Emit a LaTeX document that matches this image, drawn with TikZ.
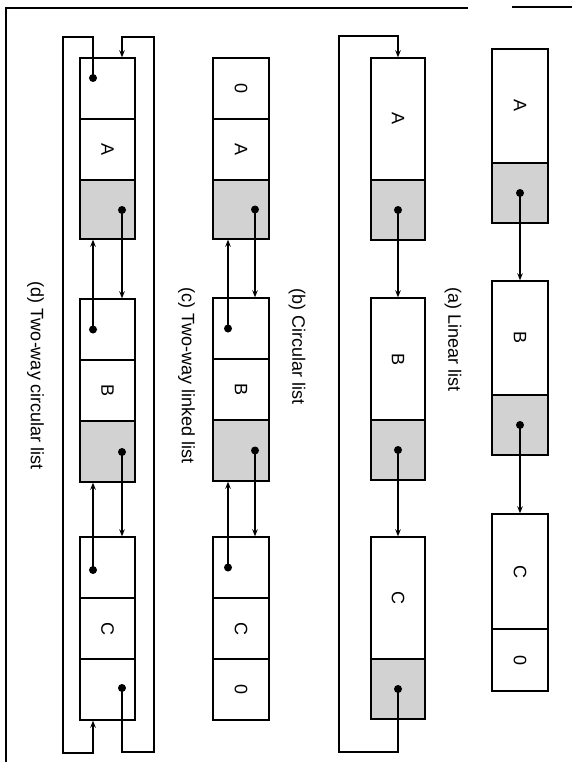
\documentclass[tikz,border=0pt]{standalone}
\usepackage{fontspec}
\setmainfont{Liberation Sans}
\usepackage{graphicx}
\usetikzlibrary{arrows.meta}
\begin{document}
\begin{tikzpicture}[x=1pt,y=-1pt,
  cell/.style={draw,line width=1.4pt,inner sep=0pt,minimum height=61pt,font=\fontsize{18}{20}\selectfont},
  shaded/.style={cell,fill=gray!35},
  wa/.style={minimum width=56pt},
  wb/.style={minimum width=54pt},
  wc/.style={minimum width=56pt},
  wd/.style={minimum width=55pt},
  dot/.style={circle,fill=black,inner sep=0pt,minimum size=8pt},
  link/.style={line width=1.3pt,-{Stealth[length=7pt,width=5.5pt]}},
  lab/.style={rotate=-90,font=\fontsize{18}{20}\selectfont},
  frame/.style={line width=1.4pt}]
\useasboundingbox (0,0) rectangle (572,762);
% page frame
\coordinate (f1) at (6,762);
\coordinate (f2) at (6,8);
\coordinate (f3) at (468,8);
\coordinate (f4) at (512,7);
\coordinate (f5) at (572,7);
\draw[frame] (f1) -- (f2) -- (f3);
\draw[frame] (f4) -- (f5);

% (a) Linear list
\node[cell,wa,minimum height=114pt] (aA1) at (520,106) {\rotatebox{-90}{A}};
\node[shaded,wa,minimum height=60pt] (aA2) at (520,193) {};
\node[cell,wa,minimum height=114pt] (aB1) at (520,338) {\rotatebox{-90}{B}};
\node[shaded,wa,minimum height=60pt] (aB2) at (520,425) {};
\node[cell,wa,minimum height=115pt] (aC1) at (520,571.5) {\rotatebox{-90}{C}};
\node[cell,wa,minimum height=62pt] (aC2) at (520,660) {\rotatebox{-90}{0}};
\node[dot] (aAd) at (aA2.center) {};
\node[dot] (aBd) at (aB2.center) {};
\draw[link] (aAd.center) -- (aB1.north);
\draw[link] (aBd.center) -- (aC1.north);
\node[lab] (la) at (453,340) {(a) Linear list};

% (b) Circular list
\node[cell,wb,minimum height=122pt] (bA1) at (398,119) {\rotatebox{-90}{A}};
\node[shaded,wb,minimum height=60pt] (bA2) at (398,210) {};
\node[cell,wb,minimum height=122pt] (bB1) at (398,359) {\rotatebox{-90}{B}};
\node[shaded,wb,minimum height=60pt] (bB2) at (398,450) {};
\node[cell,wb,minimum height=122pt] (bC1) at (398,598) {\rotatebox{-90}{C}};
\node[shaded,wb,minimum height=60pt] (bC2) at (398,689) {};
\node[dot] (bAd) at (bA2.center) {};
\node[dot] (bBd) at (bB2.center) {};
\node[dot] (bCd) at (bC2.center) {};
\draw[link] (bAd.center) -- (bB1.north);
\draw[link] (bBd.center) -- (bC1.north);
\coordinate (bL1) at (398,752);
\coordinate (bL2) at (339,752);
\coordinate (bL3) at (339,36);
\coordinate (bL4) at (398,36);
\draw[link] (bCd.center) -- (bL1) -- (bL2) -- (bL3) -- (bL4) -- (bA1.north);
\node[lab] (lb) at (297,346.5) {(b) Circular list};

% (c) Two-way linked list
\node[cell,wc] (cA1) at (241,88.5) {\rotatebox{-90}{0}};
\node[cell,wc] (cA2) at (241,149.5) {\rotatebox{-90}{A}};
\node[shaded,wc,minimum height=59pt] (cA3) at (241,209.5) {};
\node[cell,wc] (cB1) at (241,328.5) {};
\node[cell,wc] (cB2) at (241,389.5) {\rotatebox{-90}{B}};
\node[shaded,wc] (cB3) at (241,450.5) {};
\node[cell,wc] (cC1) at (241,567.5) {};
\node[cell,wc] (cC2) at (241,628.5) {\rotatebox{-90}{C}};
\node[cell,wc] (cC3) at (241,689.5) {\rotatebox{-90}{0}};
\node[dot] (cAn) at (255,209.5) {};
\node[dot] (cBp) at (228,328.5) {};
\node[dot] (cBn) at (255,450.5) {};
\node[dot] (cCp) at (228,567.5) {};
\draw[link] (cAn.center) -- (cAn |- cB1.north);
\draw[link] (cBp.center) -- (cBp |- cA3.south);
\draw[link] (cBn.center) -- (cBn |- cC1.north);
\draw[link] (cCp.center) -- (cCp |- cB3.south);
\node[lab] (lc) at (186.5,375.5) {(c) Two-way linked list};

% (d) Two-way circular list
\node[cell,wd] (dA1) at (107.5,88.5) {};
\node[cell,wd] (dA2) at (107.5,149.5) {\rotatebox{-90}{A}};
\node[shaded,wd,minimum height=59pt] (dA3) at (107.5,209.5) {};
\node[cell,wd] (dB1) at (107.5,329.5) {};
\node[cell,wd] (dB2) at (107.5,390.5) {\rotatebox{-90}{B}};
\node[shaded,wd] (dB3) at (107.5,451.5) {};
\node[cell,wd] (dC1) at (107.5,567.5) {};
\node[cell,wd] (dC2) at (107.5,628.5) {\rotatebox{-90}{C}};
\node[cell,wd] (dC3) at (107.5,689.5) {};
\node[dot] (dAp) at (93,78) {};
\node[dot] (dAn) at (122,210) {};
\node[dot] (dBp) at (93,329.5) {};
\node[dot] (dBn) at (122,452) {};
\node[dot] (dCp) at (93,570) {};
\node[dot] (dCn) at (122,688) {};
\draw[link] (dAn.center) -- (dAn |- dB1.north);
\draw[link] (dBp.center) -- (dBp |- dA3.south);
\draw[link] (dBn.center) -- (dBn |- dC1.north);
\draw[link] (dCp.center) -- (dCp |- dB3.south);
\coordinate (dP1) at (93,37);
\coordinate (dP2) at (63,37);
\coordinate (dP3) at (63,753);
\coordinate (dP4) at (93,753);
\draw[link] (dAp.center) -- (dP1) -- (dP2) -- (dP3) -- (dP4) -- (dP4 |- dC3.south);
\coordinate (dN1) at (122,752);
\coordinate (dN2) at (154,752);
\coordinate (dN3) at (154,37);
\coordinate (dN4) at (122,37);
\draw[link] (dCn.center) -- (dN1) -- (dN2) -- (dN3) -- (dN4) -- (dN4 |- dA1.north);
\node[lab] (ld) at (35.5,376) {(d) Two-way circular list};
\end{tikzpicture}
\end{document}
